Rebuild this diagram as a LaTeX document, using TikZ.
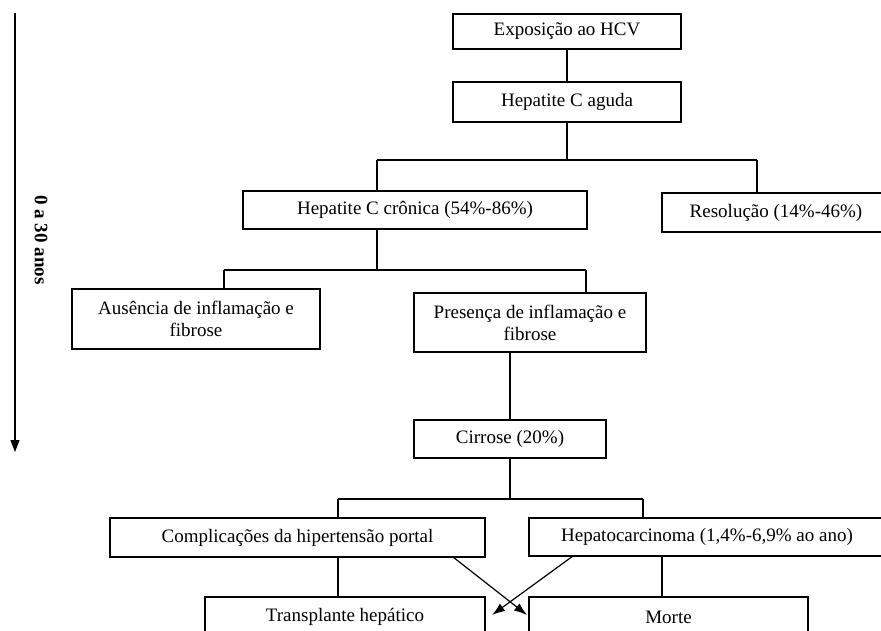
\documentclass[tikz,border=0pt]{standalone}
\usepackage{fontspec}
\setmainfont{Liberation Serif}
\usetikzlibrary{arrows.meta}
\begin{document}
\begin{tikzpicture}[x=1pt,y=1pt,
  every node/.style={font=\fontsize{19}{22}\selectfont},
  box/.style={draw, line width=1.2pt, rectangle, inner sep=0pt, align=center},
  conn/.style={line width=1.2pt},
  arr/.style={line width=1.2pt, -{Latex[length=13pt,width=9pt]}}]
\useasboundingbox (0,0) rectangle (881,-631);
% boxes
\node[box, minimum width=228pt, minimum height=35pt] (exp) at (567,-31.5) {Exposição ao HCV};
\node[box, minimum width=228pt, minimum height=40pt] (agu) at (567,-102) {Hepatite C aguda};
\node[box, minimum width=344pt, minimum height=38pt] (cron) at (415,-210) {Hepatite C crônica (54\%-86\%)};
\node[box, minimum width=228pt, minimum height=39pt] (res) at (776,-212.5) {Resolução (14\%-46\%)};
\node[box, minimum width=248pt, minimum height=60pt] (aus) at (196,-319) {Ausência de inflamação e\\fibrose};
\node[box, minimum width=232pt, minimum height=59pt] (pres) at (530,-322.5) {Presença de inflamação e\\fibrose};
\node[box, minimum width=192pt, minimum height=38pt] (cir) at (510,-439) {Cirrose (20\%)};
\node[box, minimum width=375pt, minimum height=39pt] (comp) at (297.5,-537.5) {Complicações da hipertensão portal};
\node[box, minimum width=356pt, minimum height=38pt] (hep) at (707,-537) {Hepatocarcinoma (1,4\%-6,9\% ao ano)};
\node[box, minimum width=280pt, minimum height=40pt] (trans) at (345,-617) {Transplante hepático};
\node[box, minimum width=279pt, minimum height=40pt] (morte) at (668.5,-617) {Morte};
% timeline
\coordinate (t0) at (15,-13);
\coordinate (t1) at (15,-452);
\draw[line width=1.2pt, -{Triangle[length=12pt,width=9pt]}] (t0) -- (t1);
\node[rotate=-90, font=\fontsize{19}{22}\selectfont\bfseries] (lab) at (41,-240) {0 a 30 anos};
% connectors
\draw[conn] (exp.south) -- (agu.north);
\coordinate (h1l) at (377,-160);
\coordinate (h1r) at (757,-160);
\draw[conn] (agu.south) -- (agu.south |- h1l);
\draw[conn] (h1l) -- (h1r);
\draw[conn] (h1l) -- (h1l |- cron.north);
\draw[conn] (h1r) -- (h1r |- res.north);
\coordinate (h2l) at (224,-270);
\coordinate (h2r) at (586,-270);
\coordinate (h2c) at (377,-270);
\draw[conn] (h2c |- cron.south) -- (h2c);
\draw[conn] (h2l) -- (h2r);
\draw[conn] (h2l) -- (h2l |- aus.north);
\draw[conn] (h2r) -- (h2r |- pres.north);
\draw[conn] (cir.north |- pres.south) -- (cir.north);
\coordinate (h4l) at (338,-499);
\coordinate (h4r) at (643,-499);
\draw[conn] (cir.south) -- (cir.south |- h4l);
\draw[conn] (h4l) -- (h4r);
\draw[conn] (h4l) -- (h4l |- comp.north);
\draw[conn] (h4r) -- (h4r |- hep.north);
\draw[conn] (h4l |- comp.south) -- (h4l |- trans.north);
\coordinate (v5) at (662,-580);
\draw[conn] (v5 |- hep.south) -- (v5 |- morte.north);
\coordinate (a1s) at (453,-557);
\coordinate (a1e) at (527,-615);
\coordinate (a2s) at (573,-556);
\coordinate (a2e) at (492,-615);
\draw[arr] (a1s) -- (a1e);
\draw[arr] (a2s) -- (a2e);
\end{tikzpicture}
\end{document}
